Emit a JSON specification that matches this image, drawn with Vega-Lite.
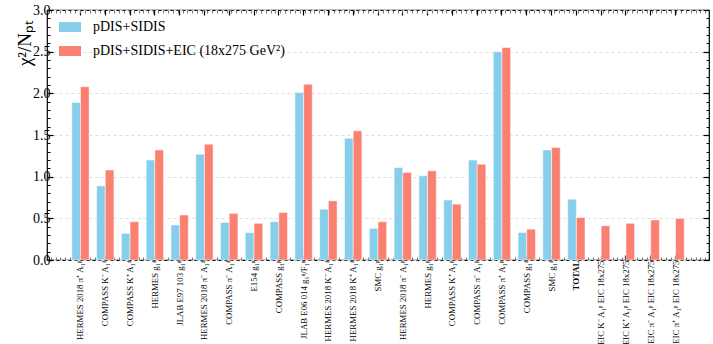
{
 "$schema": "https://vega.github.io/schema/vega-lite/v6.json",
 "width": 662, "height": 250,
 "autosize": "none",
 "padding": {"left": 47, "top": 10, "right": 4, "bottom": 84},
 "config": {"view": {"stroke": "black", "strokeWidth": 1.2}, "font": "Liberation Serif", "axis": {"domain": false}},
 "data": {"values": [
  {"cat": "HERMES 2018 π⁺ A₁ᵖ", "series": "pDIS+SIDIS", "value": 1.89},
  {"cat": "HERMES 2018 π⁺ A₁ᵖ", "series": "pDIS+SIDIS+EIC (18x275 GeV²)", "value": 2.08},
  {"cat": "COMPASS K⁻ A₁ᵈ", "series": "pDIS+SIDIS", "value": 0.89},
  {"cat": "COMPASS K⁻ A₁ᵈ", "series": "pDIS+SIDIS+EIC (18x275 GeV²)", "value": 1.08},
  {"cat": "COMPASS K⁺ A₁ᵈ", "series": "pDIS+SIDIS", "value": 0.32},
  {"cat": "COMPASS K⁺ A₁ᵈ", "series": "pDIS+SIDIS+EIC (18x275 GeV²)", "value": 0.46},
  {"cat": "HERMES g₁ᵈ", "series": "pDIS+SIDIS", "value": 1.20},
  {"cat": "HERMES g₁ᵈ", "series": "pDIS+SIDIS+EIC (18x275 GeV²)", "value": 1.32},
  {"cat": "JLAB E97 103 g₁ⁿ", "series": "pDIS+SIDIS", "value": 0.42},
  {"cat": "JLAB E97 103 g₁ⁿ", "series": "pDIS+SIDIS+EIC (18x275 GeV²)", "value": 0.54},
  {"cat": "HERMES 2018 π⁻ A₁ᵈ", "series": "pDIS+SIDIS", "value": 1.27},
  {"cat": "HERMES 2018 π⁻ A₁ᵈ", "series": "pDIS+SIDIS+EIC (18x275 GeV²)", "value": 1.39},
  {"cat": "COMPASS π⁻ A₁ᵈ", "series": "pDIS+SIDIS", "value": 0.45},
  {"cat": "COMPASS π⁻ A₁ᵈ", "series": "pDIS+SIDIS+EIC (18x275 GeV²)", "value": 0.56},
  {"cat": "E154 g₁ⁿ", "series": "pDIS+SIDIS", "value": 0.33},
  {"cat": "E154 g₁ⁿ", "series": "pDIS+SIDIS+EIC (18x275 GeV²)", "value": 0.44},
  {"cat": "COMPASS g₁ᵖ", "series": "pDIS+SIDIS", "value": 0.46},
  {"cat": "COMPASS g₁ᵖ", "series": "pDIS+SIDIS+EIC (18x275 GeV²)", "value": 0.57},
  {"cat": "JLAB E06 014 g₁ⁿ/F₁ⁿ", "series": "pDIS+SIDIS", "value": 2.01},
  {"cat": "JLAB E06 014 g₁ⁿ/F₁ⁿ", "series": "pDIS+SIDIS+EIC (18x275 GeV²)", "value": 2.11},
  {"cat": "HERMES 2018 K⁻ A₁ᵈ", "series": "pDIS+SIDIS", "value": 0.61},
  {"cat": "HERMES 2018 K⁻ A₁ᵈ", "series": "pDIS+SIDIS+EIC (18x275 GeV²)", "value": 0.71},
  {"cat": "HERMES 2018 K⁺ A₁ᵈ", "series": "pDIS+SIDIS", "value": 1.46},
  {"cat": "HERMES 2018 K⁺ A₁ᵈ", "series": "pDIS+SIDIS+EIC (18x275 GeV²)", "value": 1.55},
  {"cat": "SMC g₁ᵖ", "series": "pDIS+SIDIS", "value": 0.38},
  {"cat": "SMC g₁ᵖ", "series": "pDIS+SIDIS+EIC (18x275 GeV²)", "value": 0.46},
  {"cat": "HERMES 2018 π⁻ A₁ᵖ", "series": "pDIS+SIDIS", "value": 1.11},
  {"cat": "HERMES 2018 π⁻ A₁ᵖ", "series": "pDIS+SIDIS+EIC (18x275 GeV²)", "value": 1.05},
  {"cat": "HERMES g₁ᵖ", "series": "pDIS+SIDIS", "value": 1.01},
  {"cat": "HERMES g₁ᵖ", "series": "pDIS+SIDIS+EIC (18x275 GeV²)", "value": 1.07},
  {"cat": "COMPASS K⁺ A₁ᵖ", "series": "pDIS+SIDIS", "value": 0.72},
  {"cat": "COMPASS K⁺ A₁ᵖ", "series": "pDIS+SIDIS+EIC (18x275 GeV²)", "value": 0.67},
  {"cat": "COMPASS π⁻ A₁ᵖ", "series": "pDIS+SIDIS", "value": 1.20},
  {"cat": "COMPASS π⁻ A₁ᵖ", "series": "pDIS+SIDIS+EIC (18x275 GeV²)", "value": 1.15},
  {"cat": "COMPASS π⁺ A₁ᵖ", "series": "pDIS+SIDIS", "value": 2.50},
  {"cat": "COMPASS π⁺ A₁ᵖ", "series": "pDIS+SIDIS+EIC (18x275 GeV²)", "value": 2.55},
  {"cat": "COMPASS g₁ᵈ", "series": "pDIS+SIDIS", "value": 0.33},
  {"cat": "COMPASS g₁ᵈ", "series": "pDIS+SIDIS+EIC (18x275 GeV²)", "value": 0.37},
  {"cat": "SMC g₁ᵈ", "series": "pDIS+SIDIS", "value": 1.32},
  {"cat": "SMC g₁ᵈ", "series": "pDIS+SIDIS+EIC (18x275 GeV²)", "value": 1.35},
  {"cat": "TOTAL", "series": "pDIS+SIDIS", "value": 0.73},
  {"cat": "TOTAL", "series": "pDIS+SIDIS+EIC (18x275 GeV²)", "value": 0.51},
  {"cat": "EIC K⁻ A₁ᵖ EIC 18x275", "series": "pDIS+SIDIS+EIC (18x275 GeV²)", "value": 0.41},
  {"cat": "EIC K⁺ A₁ᵖ EIC 18x275", "series": "pDIS+SIDIS+EIC (18x275 GeV²)", "value": 0.44},
  {"cat": "EIC π⁻ A₁ᵖ EIC 18x275", "series": "pDIS+SIDIS+EIC (18x275 GeV²)", "value": 0.48},
  {"cat": "EIC π⁺ A₁ᵖ EIC 18x275", "series": "pDIS+SIDIS+EIC (18x275 GeV²)", "value": 0.50}
 ]},
 "layer": [
  {
   "mark": {"type": "bar", "stroke": "white", "strokeOpacity": 0.5, "strokeWidth": 1},
   "encoding": {
    "x": {"field": "cat", "type": "nominal", "sort": null,
      "scale": {"paddingInner": 0.3, "paddingOuter": 1.2},
      "axis": {"orient": "bottom", "title": null, "labelAngle": -90, "labelFontSize": 8.8, "labelFont": "Liberation Serif", "labelColor": "black", "tickSize": -5, "tickColor": "black", "tickWidth": 1.2, "labelPadding": 5, "labelLimit": 200,
        "labelFontWeight": {"condition": {"test": "datum.value === 'TOTAL'", "value": "bold"}, "value": "normal"}}},
    "xOffset": {"field": "series", "sort": null, "scale": {"paddingInner": 0}},
    "y": {"field": "value", "type": "quantitative", "scale": {"domain": [0, 3], "nice": false},
      "axis": {"orient": "left", "title": "χ²/Nₚₜ", "values": [0, 0.5, 1, 1.5, 2, 2.5, 3], "format": ".1f", "tickSize": -6, "tickColor": "black", "tickWidth": 1.2, "labelFontSize": 14, "labelColor": "black", "labelPadding": 3, "grid": true, "gridDash": [3, 3], "gridColor": "#dddddd", "titleFontSize": 19, "titleFontWeight": "normal", "titleColor": "black", "titleX": -23, "titleY": 33, "titleAlign": "center", "titleBaseline": "middle", "titleAngle": -90}},
    "color": {"field": "series", "type": "nominal", "sort": null,
      "scale": {"range": ["#87CEEB", "#FA8072"]},
      "legend": {"orient": "none", "legendX": 12, "legendY": 6, "title": null, "symbolType": "M-1,-0.45L1,-0.45L1,0.45L-1,0.45Z", "symbolSize": 484, "symbolStrokeWidth": 0, "symbolOpacity": 1, "labelFontSize": 14, "labelFont": "Liberation Serif", "labelColor": "black", "rowPadding": 6, "labelOffset": 12, "labelLimit": 400}}
   }
  },
  {
   "mark": {"type": "bar", "opacity": 0},
   "encoding": {
    "x": {"field": "cat", "type": "nominal", "sort": null,
      "scale": {"paddingInner": 0.3, "paddingOuter": 1.2},
      "axis": {"orient": "top", "title": null, "labels": false, "tickSize": -5, "tickColor": "black", "tickWidth": 1.2}},
    "xOffset": {"field": "series", "sort": null, "scale": {"paddingInner": 0}},
    "y": {"field": "value", "type": "quantitative", "scale": {"domain": [0, 3], "nice": false},
      "axis": {"orient": "right", "title": null, "labels": false, "values": [0, 0.5, 1, 1.5, 2, 2.5, 3], "tickSize": -6, "tickColor": "black", "tickWidth": 1.2, "grid": false}}
   }
  },
  {
   "mark": {"type": "point", "opacity": 0},
   "encoding": {
    "x": {"field": "value", "type": "quantitative", "scale": {"domain": [-7.75, 127.75], "nice": false, "zero": false},
      "axis": {"orient": "bottom", "title": null, "labels": false, "tickCount": 136, "tickSize": -3, "tickColor": "#777777", "grid": false}},
    "y": {"field": "value", "type": "quantitative", "scale": {"domain": [0, 3], "nice": false},
      "axis": {"orient": "left", "title": null, "labels": false, "values": [0, 0.1, 0.2, 0.3, 0.4, 0.5, 0.6, 0.7, 0.8, 0.9, 1, 1.1, 1.2, 1.3, 1.4, 1.5, 1.6, 1.7, 1.8, 1.9, 2, 2.1, 2.2, 2.3, 2.4, 2.5, 2.6, 2.7, 2.8, 2.9, 3], "tickSize": -3, "tickColor": "black", "grid": false}}
   }
  },
  {
   "mark": {"type": "point", "opacity": 0},
   "encoding": {
    "x": {"field": "value", "type": "quantitative", "scale": {"domain": [-7.75, 127.75], "nice": false, "zero": false},
      "axis": {"orient": "top", "title": null, "labels": false, "tickCount": 136, "tickSize": -3, "tickColor": "#777777", "grid": false}},
    "y": {"field": "value", "type": "quantitative", "scale": {"domain": [0, 3], "nice": false},
      "axis": {"orient": "right", "title": null, "labels": false, "values": [0, 0.1, 0.2, 0.3, 0.4, 0.5, 0.6, 0.7, 0.8, 0.9, 1, 1.1, 1.2, 1.3, 1.4, 1.5, 1.6, 1.7, 1.8, 1.9, 2, 2.1, 2.2, 2.3, 2.4, 2.5, 2.6, 2.7, 2.8, 2.9, 3], "tickSize": -3, "tickColor": "black", "grid": false}}
   }
  }
 ],
 "resolve": {"scale": {"x": "independent"}, "axis": {"x": "independent", "y": "independent"}}
}
